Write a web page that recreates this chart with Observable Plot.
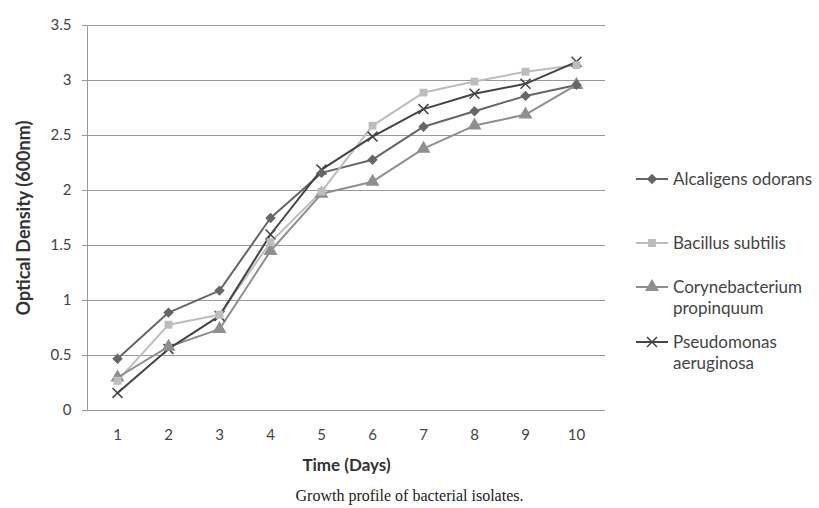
<!DOCTYPE html>
<html><head><meta charset="utf-8">
<script src="https://cdn.jsdelivr.net/npm/d3@7"></script>
<script src="https://cdn.jsdelivr.net/npm/@observablehq/plot@0.6"></script>
<style>
body{margin:0;background:#fff;}
#wrap{position:relative;width:819px;height:508px;overflow:hidden;}
#chart svg{font-family:Lato,"Open Sans",sans-serif;}
#chart g[aria-label="y-axis label"] text{font-weight:bold;font-size:18px;fill:#333;}
#chart g[aria-label="x-axis label"] text{font-weight:bold;font-size:17px;fill:#333;}
#legend{position:absolute;left:0;top:0;}
#caption{position:absolute;left:0;width:819px;top:487px;text-align:center;font-family:"Liberation Serif",serif;font-size:16px;color:#222;}
</style></head><body>
<div id="wrap"><div id="chart"></div><svg id="legend" width="819" height="480"></svg><div id="caption">Growth profile of bacterial isolates.</div></div>
<script>
const days = [1,2,3,4,5,6,7,8,9,10];
const seriesNames = ["Alcaligens odorans","Bacillus subtilis","Corynebacterium propinquum","Pseudomonas aeruginosa"];
const legendLines = [["Alcaligens odorans"],["Bacillus subtilis"],["Corynebacterium","propinquum"],["Pseudomonas","aeruginosa"]];
const alcaligens = [0.47,0.89,1.09,1.75,2.16,2.28,2.58,2.72,2.86,2.96];
const bacillus   = [0.27,0.78,0.87,1.53,1.99,2.59,2.89,2.99,3.08,3.14];
const coryne     = [0.30,0.58,0.74,1.45,1.97,2.08,2.38,2.59,2.69,2.96];
const pseudo     = [0.16,0.56,0.86,1.60,2.19,2.49,2.74,2.88,2.97,3.17];
const yTicks = [0,0.5,1,1.5,2,2.5,3,3.5];
const colors = ["#666666","#bdbdbd","#8f8f8f","#444444"];
const symbols = ["square","square","triangle","times"];
const rotations = [45,0,0,0];
const radii = [3.3,3.6,4.2,4.6];

const values = [alcaligens,bacillus,coryne,pseudo];
const data = [];
seriesNames.forEach((s,i)=>days.forEach((d,j)=>data.push({series:s, idx:i, day:d, od:values[i][j]})));

const chart = Plot.plot({
  width: 819, height: 480,
  marginLeft: 87, marginRight: 214, marginTop: 25, marginBottom: 70,
  style: {fontSize:"15px", color:"#444", background:"#fff"},
  x: {type:"point", domain: days, padding: 0.5},
  y: {domain:[0,3.5]},
  r: {type:"identity"},
  color: {domain: seriesNames, range: colors},
  symbol: {domain: seriesNames, range: symbols},
  marks: [
    Plot.gridY(yTicks, {stroke:"#9a9a9a", strokeOpacity:1}),
    Plot.axisY(yTicks, {tickSize:5, tickPadding:11, stroke:"#9a9a9a", tickFormat: d => String(d), fill:"#444",
      label:"Optical Density (600nm)", labelAnchor:"center", labelArrow:"none", labelOffset:70}),
    Plot.axisX(days, {tickSize:0, tickPadding:19, fill:"#444", label:"Time (Days)", labelAnchor:"center", labelArrow:"none", labelOffset:60}),
    Plot.frame({anchor:"left", stroke:"#9a9a9a"}),
    Plot.ruleY([0], {stroke:"#9a9a9a"}),
    Plot.line(data, {x:"day", y:"od", z:"series", stroke:"series", strokeWidth:2}),
    Plot.dot(data, {x:"day", y:"od", symbol:"series", fill:"series", stroke:"series",
      r: d => radii[d.idx], rotate: d => rotations[d.idx], strokeWidth:1.5})
  ]
});
document.getElementById("chart").append(chart);

// legend
const lg = d3.select("#legend");
const ys = [179, 243, 287, 342];
const symGen = [d3.symbolSquare, d3.symbolSquare, d3.symbolTriangle, d3.symbolTimes];
seriesNames.forEach((s,i)=>{
  const g = lg.append("g").attr("transform",`translate(0,${ys[i]})`);
  g.append("line").attr("x1",636).attr("x2",668).attr("y1",0).attr("y2",0).attr("stroke",colors[i]).attr("stroke-width",2);
  const p = g.append("path").attr("transform",`translate(652,0) rotate(${rotations[i]})`)
    .attr("d", d3.symbol(symGen[i], Math.PI*radii[i]*radii[i])());
  if (i===3) p.attr("fill","none").attr("stroke",colors[i]).attr("stroke-width",1.5);
  else p.attr("fill",colors[i]).attr("stroke",colors[i]).attr("stroke-width",1.5);
  legendLines[i].forEach((t,k)=>{
    g.append("text").attr("x",673).attr("y",k*21).attr("dy","0.35em")
      .attr("font-family","Lato, 'Open Sans', sans-serif").attr("font-size",17).attr("fill","#444").text(t);
  });
});
</script>
</body></html>
